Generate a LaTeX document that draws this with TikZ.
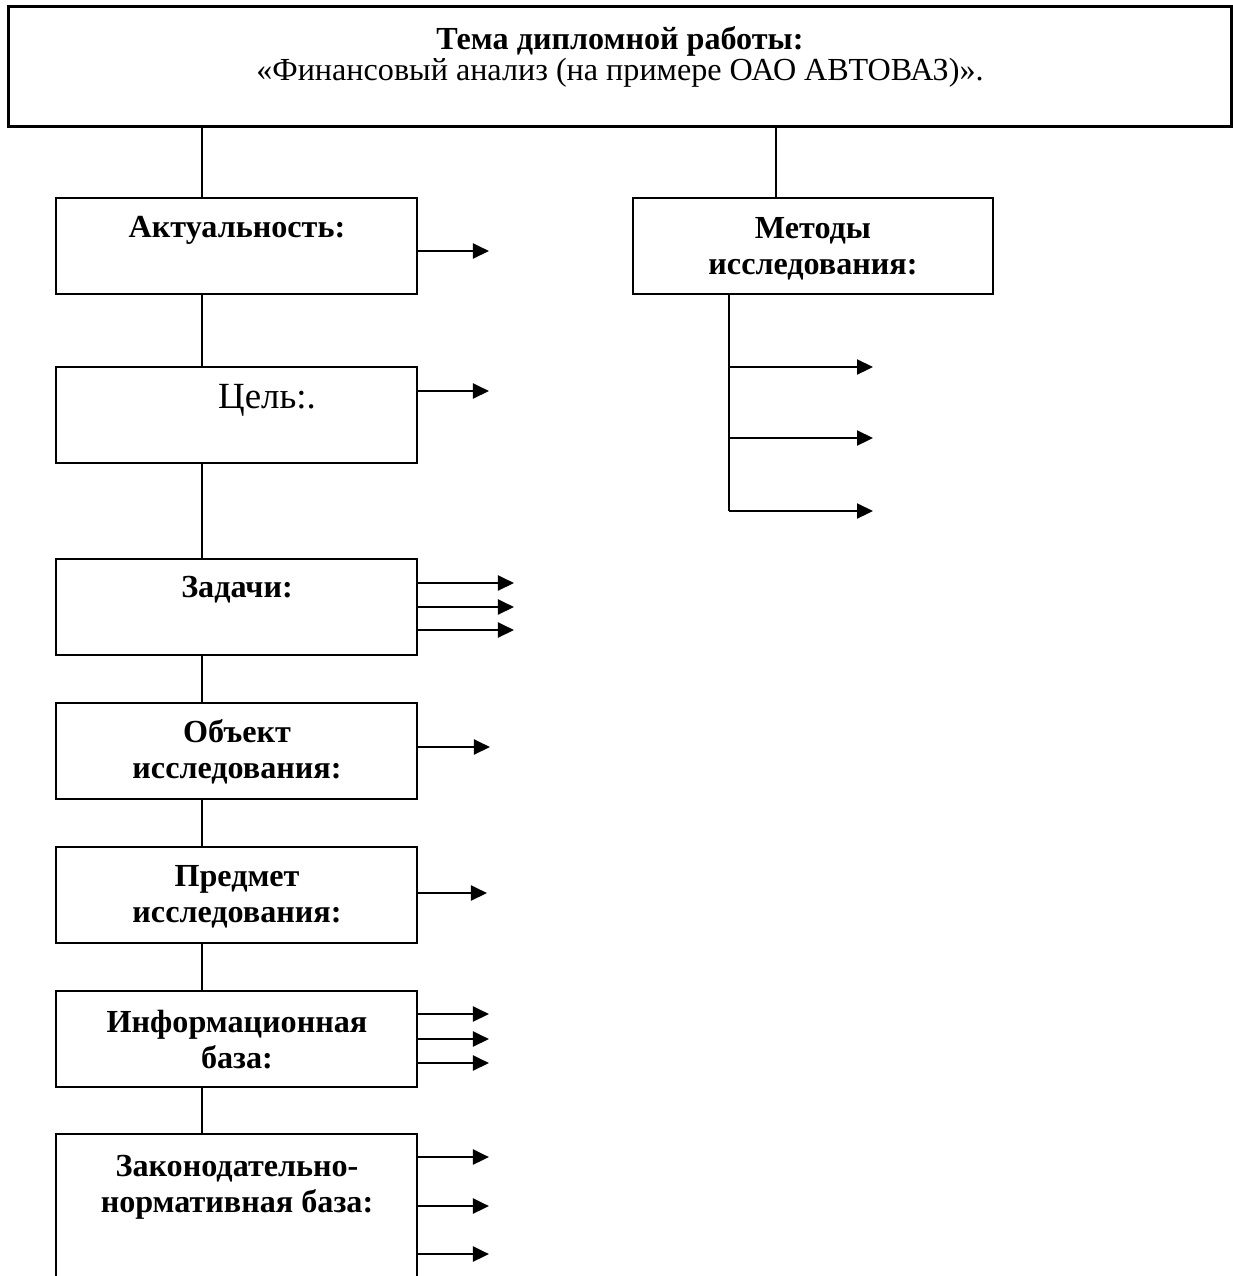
\documentclass[tikz,border=0pt]{standalone}
\usepackage{fontspec}
\setmainfont{Liberation Serif}
\usetikzlibrary{arrows.meta,calc}

\begin{document}
\begin{tikzpicture}[x=0.02cm,y=-0.02cm]

	%DEFINICIONES
	\tikzstyle{every node}=[font=\fontsize{18.3}{20.5}\selectfont]
	\tikzstyle{marco} = [draw, line width=0.6mm, minimum width=24.48cm, minimum height=2.42cm, inner sep=0pt]
	\tikzstyle{block} = [draw, line width=0.4mm, minimum width=7.22cm, minimum height=1.92cm, inner sep=0pt]
	\tikzstyle{texto} = [align=center, inner sep=0pt, font=\fontsize{18.3}{20.5}\selectfont\bfseries]
	\tikzstyle{flecha} = [-{Triangle[length=0.32cm,width=0.3cm]}, line width=0.45mm]
	\tikzstyle{linea} = [line width=0.4mm]

	\path[use as bounding box, clip] (0,0) rectangle (1233,1276);

	%BLOQUES
	\draw(620,66.5) node[marco](tema){};
	\draw(620,57) node[align=center, inner sep=0pt, font=\fontsize{18.3}{17.5}\selectfont](ttema){\textbf{Тема дипломной работы:}\\«Финансовый анализ (на примере ОАО АВТОВАЗ)».};

	\draw(236.5,246) node[block](akt){};
	\draw(236.5,415) node[block](cel){};
	\draw(236.5,606.5) node[block](zad){};
	\draw(236.5,750.5) node[block](obj){};
	\draw(236.5,895) node[block](pred){};
	\draw(236.5,1039) node[block](inf){};
	\draw(236.5,1217) node[block, minimum height=3.32cm](zak){};
	\draw(813,246) node[block, minimum width=7.2cm](met){};

	%TEXTOS
	\draw(237,230) node[texto](takt){Актуальность:};
	\draw(267,400) node[texto, font=\fontsize{21}{24}\selectfont](tcel){Цель:.};
	\draw(237,590) node[texto](tzad){Задачи:};
	\draw(237,752) node[texto](tobj){Объект\\исследования:};
	\draw(237,897) node[texto](tpred){Предмет\\исследования:};
	\draw(237,1040) node[texto](tinf){Информационная\\база:};
	\draw(237,1187) node[texto](tzak){Законодательно-\\нормативная база:};
	\draw(813,249) node[texto](tmet){Методы\\исследования:};

	%LINEAS
	\coordinate (eje) at (202,0);
	\coordinate (ejem) at (776,0);
	\draw[linea] (tema.south -| eje) -- (akt.north -| eje);
	\draw[linea] (tema.south -| ejem) -- (met.north -| ejem);
	\draw[linea] (akt.south -| eje) -- (cel.north -| eje);
	\draw[linea] (cel.south -| eje) -- (zad.north -| eje);
	\draw[linea] (zad.south -| eje) -- (obj.north -| eje);
	\draw[linea] (obj.south -| eje) -- (pred.north -| eje);
	\draw[linea] (pred.south -| eje) -- (inf.north -| eje);
	\draw[linea] (inf.south -| eje) -- (zak.north -| eje);

	%FLECHAS
	\draw[flecha] ($(akt.east)+(0,5)$) -- ++(71,0);
	\draw[flecha] ($(cel.east)+(0,-24)$) -- ++(71,0);
	\foreach \dy in {-23.5,0.5,23.5}
		\draw[flecha] ($(zad.east)+(0,\dy)$) -- ++(96,0);
	\draw[flecha] ($(obj.east)+(0,-3.5)$) -- ++(72,0);
	\draw[flecha] ($(pred.east)+(-2,-2)$) -- ++(71,0);
	\foreach \dy in {-25,0,24}
		\draw[flecha] ($(inf.east)+(0,\dy)$) -- ++(71,0);
	\foreach \dy in {24,73,121}
		\draw[flecha] ($(zak.north east)+(0,\dy)$) -- ++(71,0);

	\coordinate (m1) at (729,367);
	\coordinate (m2) at (729,438);
	\coordinate (m3) at (729,511);
	\draw[linea] (met.south -| m1) -- (m3);
	\foreach \i in {1,2,3}
		\draw[flecha] (m\i) -- ++(144,0);
\end{tikzpicture}
\end{document}
